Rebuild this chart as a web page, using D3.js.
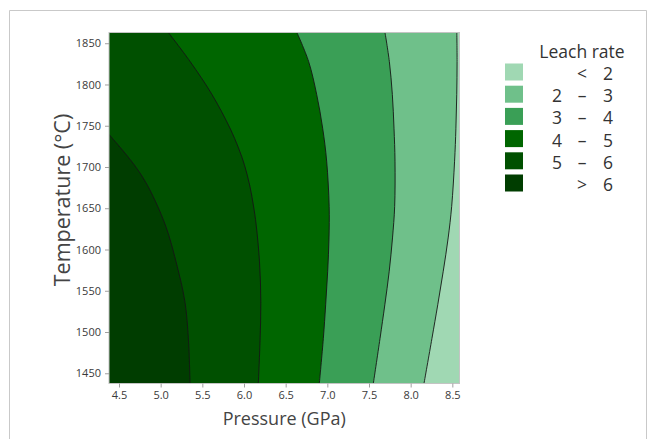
<!DOCTYPE html>
<html>
<head>
<meta charset="utf-8">
<script src="https://cdn.jsdelivr.net/npm/d3@7"></script>
<style>
  html, body { margin: 0; padding: 0; background: #fff; }
  svg { display: block; font-family: "Open Sans", "Noto Sans", sans-serif; }
</style>
</head>
<body>
<svg id="chart" width="657" height="439"></svg>
<script>
// Contour boundaries of the leach-rate surface, as [temperature °C, pressure GPa] pairs,
// ordered from the bottom of the plot upward. Larger values lie to the left of each curve.
const contour2 = [[1437.6, 8.16], [1492, 8.255], [1533, 8.325], [1573, 8.39], [1614, 8.45],
                  [1652, 8.492], [1707, 8.527], [1747, 8.543], [1788, 8.553], [1828, 8.557], [1863, 8.554]];
const contour3 = [[1437.6, 7.552], [1492, 7.632], [1533, 7.69], [1573, 7.742], [1614, 7.782],
                  [1652, 7.808], [1707, 7.812], [1747, 7.80], [1788, 7.78], [1828, 7.744], [1863, 7.692]];
const contour4 = [[1437.6, 6.904], [1492, 6.952], [1533, 6.98], [1573, 7.004], [1614, 7.02],
                  [1652, 7.022], [1707, 6.992], [1747, 6.944], [1788, 6.872], [1828, 6.775], [1863, 6.635]];
const contour5 = [[1437.6, 6.172], [1488, 6.192], [1536, 6.202], [1585, 6.186], [1630, 6.146],
                  [1654, 6.112], [1678, 6.068], [1703, 6.004], [1723, 5.934], [1747, 5.832],
                  [1788, 5.615], [1828, 5.352], [1863, 5.092]];
const contour6 = [[1437.6, 5.352], [1488, 5.335], [1536, 5.292], [1581, 5.195], [1630, 5.055],
                  [1678, 4.84], [1703, 4.68], [1723, 4.52], [1739.5, 4.38]];

const levels = [2, 3, 4, 5, 6];
const contours = [contour2, contour3, contour4, contour5, contour6];

// Band colours, lowest band first
const bandColors = ["#a0d8b3", "#6fc08a", "#3a9f56", "#006600", "#005000", "#003d00"];
const legendLabels = [["", "<", "2"], ["2", "–", "3"], ["3", "–", "4"],
                      ["4", "–", "5"], ["5", "–", "6"], ["", ">", "6"]];

const xTicks = [4.5, 5.0, 5.5, 6.0, 6.5, 7.0, 7.5, 8.0, 8.5];
const yTicks = [1450, 1500, 1550, 1600, 1650, 1700, 1750, 1800, 1850];
const xDomain = [4.38, 8.586];
const yDomain = [1437.6, 1863];

const svg = d3.select("#chart");

// Outer frame
svg.append("path")
  .attr("d", "M9.5,439 V10.5 H646.5 V439")
  .attr("fill", "none").attr("stroke", "#c9c9c9").attr("stroke-width", 1);

const plot = { left: 109, top: 32.5, right: 459.5, bottom: 383.5 };
const x = d3.scaleLinear().domain(xDomain).range([plot.left, plot.right]);
const y = d3.scaleLinear().domain(yDomain).range([plot.bottom, plot.top]);

svg.append("clipPath").attr("id", "plot-clip")
  .append("rect")
  .attr("x", plot.left).attr("y", plot.top)
  .attr("width", plot.right - plot.left).attr("height", plot.bottom - plot.top);

const g = svg.append("g").attr("clip-path", "url(#plot-clip)");

// Lowest band covers the whole plot area
g.append("rect")
  .attr("x", plot.left).attr("y", plot.top)
  .attr("width", plot.right - plot.left).attr("height", plot.bottom - plot.top)
  .attr("fill", bandColors[0]);

const curve = d3.curveCatmullRom.alpha(0.5);

// Each higher band fills the region left of its lower boundary
const area = d3.area()
  .curve(curve)
  .y(d => y(d[0]))
  .x0(() => x(xDomain[0]) - 2)
  .x1(d => x(d[1]));

const line = d3.line()
  .curve(curve)
  .x(d => x(d[1]))
  .y(d => y(d[0]));

contours.forEach((c, i) => {
  g.append("path").attr("d", area(c)).attr("fill", bandColors[i + 1]);
});
contours.forEach(c => {
  g.append("path").attr("d", line(c))
    .attr("fill", "none").attr("stroke", "#151515").attr("stroke-width", 0.9);
});

// Plot border
svg.append("rect")
  .attr("x", plot.left).attr("y", plot.top)
  .attr("width", plot.right - plot.left).attr("height", plot.bottom - plot.top)
  .attr("fill", "none").attr("stroke", "#c4c4c4").attr("stroke-width", 1);

// Axes
const xAxis = svg.append("g")
  .attr("transform", `translate(0,${plot.bottom})`)
  .call(d3.axisBottom(x).tickValues(xTicks).tickFormat(d3.format(".1f")).tickSize(4).tickSizeOuter(0).tickPadding(4));
const yAxis = svg.append("g")
  .attr("transform", `translate(${plot.left},0)`)
  .call(d3.axisLeft(y).tickValues(yTicks).tickFormat(d3.format("d")).tickSize(4).tickSizeOuter(0).tickPadding(4));

[xAxis, yAxis].forEach(a => {
  a.select(".domain").remove();
  a.selectAll(".tick line").attr("stroke", "#a0a0a0");
  a.selectAll(".tick text")
    .attr("fill", "#3a3a3a")
    .style("font-family", "'Open Sans', sans-serif")
    .style("font-size", "11px");
});

// Axis titles
svg.append("text")
  .attr("x", (plot.left + plot.right) / 2).attr("y", 425)
  .attr("text-anchor", "middle")
  .attr("fill", "#444").style("font-size", "18px")
  .text("Pressure (GPa)");

svg.append("text")
  .attr("transform", "translate(70,200) rotate(-90)")
  .attr("text-anchor", "middle")
  .attr("fill", "#444").style("font-size", "21.5px")
  .text("Temperature (°C)");

// Legend
const legend = svg.append("g");
legend.append("text")
  .attr("x", 582).attr("y", 58)
  .attr("text-anchor", "middle")
  .attr("fill", "#333").style("font-size", "17.5px")
  .text("Leach rate");

legendLabels.forEach((lab, i) => {
  const top = 63.5 + i * 22.2;
  legend.append("rect")
    .attr("x", 505).attr("y", top)
    .attr("width", 18).attr("height", 17)
    .attr("fill", bandColors[i]);
  const base = top + 16.5;
  legend.append("text").attr("x", 562).attr("y", base).attr("text-anchor", "end")
    .attr("fill", "#333").style("font-size", "17.5px").text(lab[0]);
  legend.append("text").attr("x", 582).attr("y", base).attr("text-anchor", "middle")
    .attr("fill", "#333").style("font-size", "17.5px").text(lab[1]);
  legend.append("text").attr("x", 613).attr("y", base).attr("text-anchor", "end")
    .attr("fill", "#333").style("font-size", "17.5px").text(lab[2]);
});
</script>
</body>
</html>
